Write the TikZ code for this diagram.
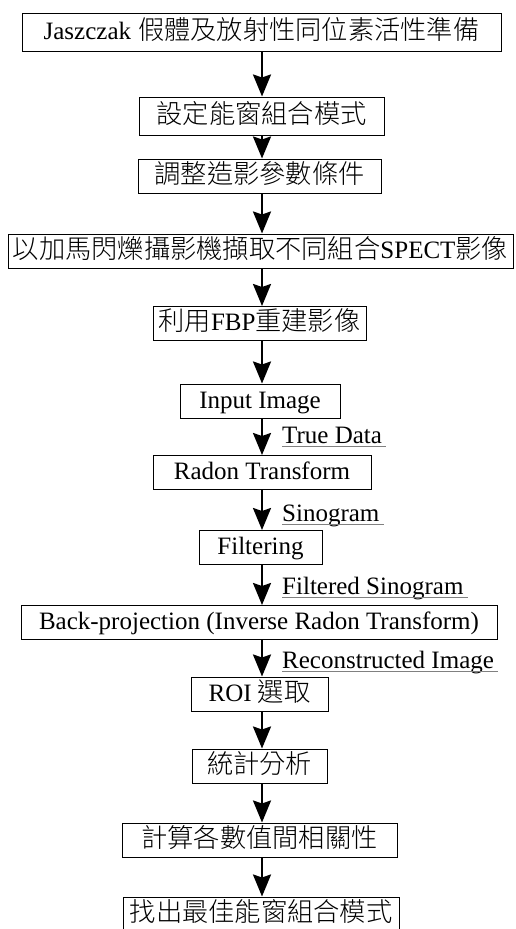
\documentclass[tikz,border=0pt]{standalone}
\usepackage{fontspec}
\setmainfont{Liberation Serif}
\newfontfamily\cjk[Scale=1.05]{Noto Sans CJK TC Light}
\usetikzlibrary{arrows.meta}

\begin{document}
\begin{tikzpicture}[x=1pt,y=-1pt]
  \tikzset{stepbox/.style={draw, line width=1pt, inner xsep=0pt, inner ysep=0pt,
      minimum height=34pt, text height=19pt, text depth=5pt,
      font=\fontsize{25pt}{30pt}\selectfont}}
  \tikzset{flow/.style={line width=2.4pt, -{Stealth[length=22pt,width=18pt,inset=3pt]}}}
  \tikzset{flowlabel/.style={anchor=base west, inner sep=0pt,
      font=\fontsize{25pt}{30pt}\selectfont}}
  \tikzset{uline/.style={gray, line width=1.2pt}}
  \useasboundingbox (0,0) rectangle (515,929);
  \coordinate (ax) at (262,0);

  \node[stepbox, minimum width=479pt, minimum height=38pt] (phantom) at (261.5,32)
      {Jaszczak\hspace{7pt}{\cjk 假體及放射性同位素活性準備}};
  \node[stepbox, minimum width=245pt, minimum height=38pt] (window) at (261.5,116)
      {\cjk 設定能窗組合模式};
  \node[stepbox, minimum width=243pt] (param) at (259.5,176) {\cjk 調整造影參數條件};
  \node[stepbox, minimum width=505pt] (acquire) at (260.5,251)
      {{\cjk 以加馬閃爍攝影機擷取不同組合}SPECT{\cjk 影像}};
  \node[stepbox, minimum width=213pt] (fbp) at (259.5,323.5) {{\cjk 利用}FBP{\cjk 重建影像}};
  \node[stepbox, minimum width=160pt] (input) at (260,401) {Input Image};
  \node[stepbox, minimum width=218pt] (radon) at (262,472.5) {Radon Transform};
  \node[stepbox, minimum width=123pt] (filter) at (260.5,547.5) {Filtering};
  \node[stepbox, minimum width=476pt] (backproj) at (259,622.5)
      {Back-projection (Inverse Radon Transform)};
  \node[stepbox, minimum width=137pt] (roi) at (259.5,694) {ROI {\cjk 選取}};
  \node[stepbox, minimum width=135pt] (stats) at (259.5,766) {\cjk 統計分析};
  \node[stepbox, minimum width=275pt] (corr) at (259.5,840) {\cjk 計算各數值間相關性};
  \node[stepbox, minimum width=276pt] (best) at (261,914) {\cjk 找出最佳能窗組合模式};

  \foreach \from/\to in {phantom/window, window/param, param/acquire, acquire/fbp,
      fbp/input, input/radon, radon/filter, filter/backproj, backproj/roi,
      roi/stats, stats/corr, corr/best}
    \draw[flow] (\from.south -| ax) -- (\to.north -| ax);

  \node[flowlabel] (truedata) at (282,443) {True Data};
  \node[flowlabel] (sino) at (282,521) {Sinogram};
  \node[flowlabel] (fsino) at (282,594) {Filtered Sinogram};
  \node[flowlabel] (recon) at (282,668) {Reconstructed Image};
  \foreach \lab in {truedata, sino, fsino, recon}
    \draw[uline] ([yshift=-3.5pt]\lab.base west) -- ([xshift=4pt,yshift=-3.5pt]\lab.base east);
\end{tikzpicture}
\end{document}
